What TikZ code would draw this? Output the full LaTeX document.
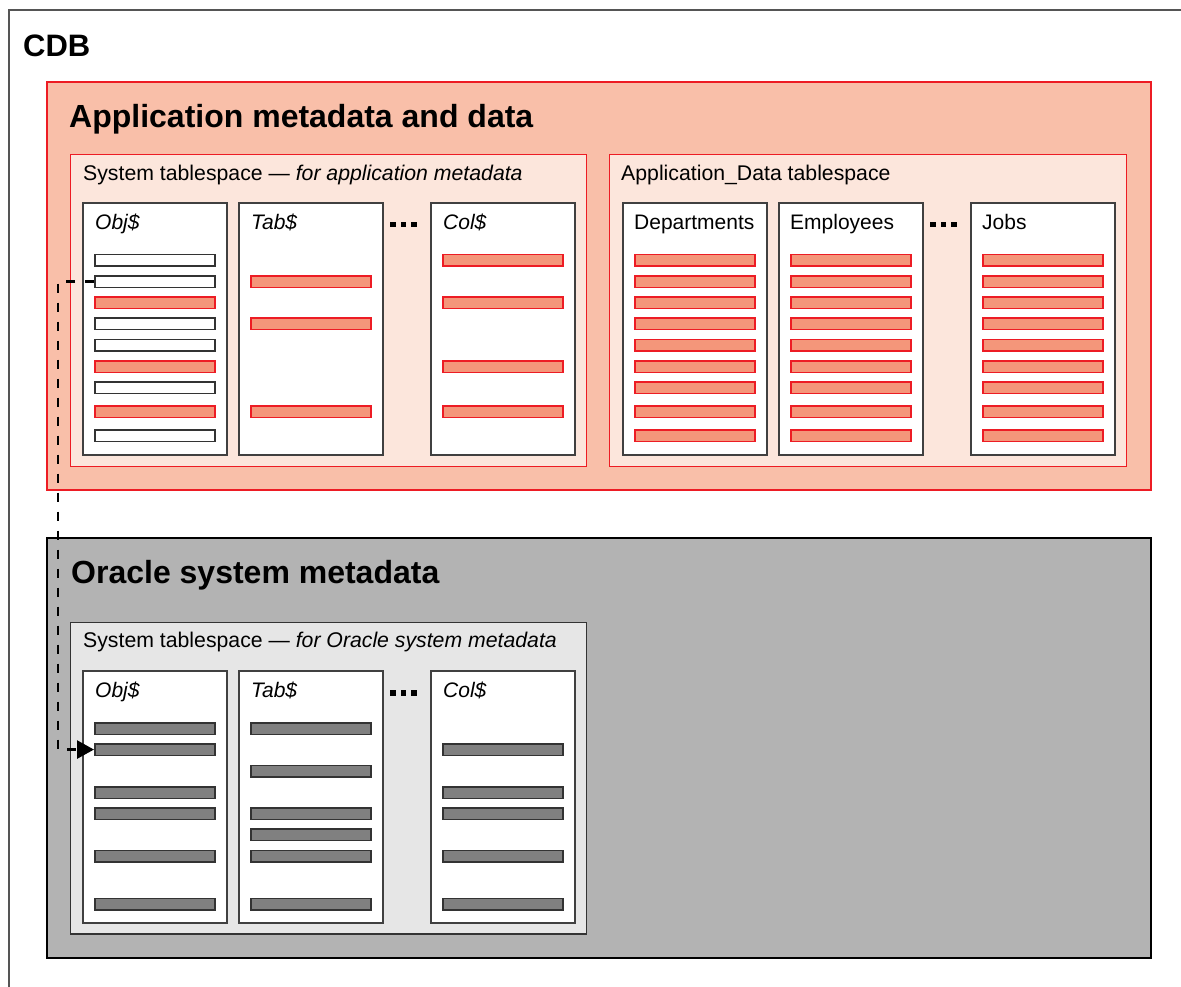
\documentclass[tikz,border=0pt]{standalone}
\usepackage{fontspec}
\setmainfont{Liberation Sans}
\usetikzlibrary{arrows.meta}
\definecolor{cdbgray}{HTML}{555555}
\definecolor{appred}{HTML}{ED1C24}
\definecolor{appfill}{HTML}{F9BFA9}
\definecolor{tbsfill}{HTML}{FCE6DC}
\definecolor{rowredfill}{HTML}{F4967A}
\definecolor{boxgray}{HTML}{404040}
\definecolor{rowborder}{HTML}{333333}
\definecolor{orafill}{HTML}{B3B3B3}
\definecolor{oratbs}{HTML}{E6E6E6}
\definecolor{rowgrayfill}{HTML}{808080}
\tikzset{
  cdbframe/.style={draw=cdbgray, line width=2pt},
  appouter/.style={draw=appred, fill=appfill, line width=2pt},
  apptbs/.style={draw=appred, fill=tbsfill, line width=1.3pt},
  oraouter/.style={draw=black, fill=orafill, line width=2.2pt},
  oratbsbox/.style={draw=rowborder, fill=oratbs, line width=1.4pt},
  colbox/.style={draw=boxgray, fill=white, line width=2pt, inner sep=0pt,
    minimum width=144pt, minimum height=252pt, anchor=north west},
  rowbase/.style={inner sep=0pt, minimum width=120pt, minimum height=11.5pt,
    anchor=north west, line width=1.6pt},
  rowempty/.style={rowbase, draw=rowborder, fill=white},
  rowred/.style={rowbase, draw=appred, fill=rowredfill},
  rowgray/.style={rowbase, draw=rowborder, fill=rowgrayfill},
  bigtitle/.style={anchor=base west, inner sep=0pt, font=\fontsize{32}{37}\selectfont\bfseries},
  cdbtitle/.style={anchor=base west, inner sep=0pt, font=\fontsize{31}{36}\selectfont\bfseries},
  subtitle/.style={anchor=base west, inner sep=0pt, font=\fontsize{21.25}{25}\selectfont},
  collabel/.style={anchor=base west, inner sep=0pt, font=\fontsize{21}{25}\selectfont},
  dotsq/.style={fill=black, draw=none, inner sep=0pt, minimum size=5.5pt, anchor=north west},
  link/.style={draw=black, line width=2.6pt, dash pattern=on 9pt off 10pt,
    -{Triangle[length=17pt,width=18pt]}},
}
\begin{document}
\begin{tikzpicture}[x=1pt,y=-1pt]
\useasboundingbox (0,0) rectangle (1181,986);
% CDB frame
\draw[cdbframe] (9,990) -- (9,10) -- (1185,10);
\node[cdbtitle] (cdb) at (23,56) {CDB};

% Application metadata and data
\node[appouter, inner sep=0pt, minimum width=1104pt, minimum height=408pt, anchor=north west] (app) at (46,81) {};
\node[bigtitle] (apptitle) at (69,127) {Application metadata and data};

\node[apptbs, inner sep=0pt, minimum width=516.5pt, minimum height=311.5pt, anchor=north west] (appsys) at (69.5,154) {};
\node[subtitle] (appsyslbl) at (83,180) {System tablespace — \textit{for application metadata}};

\node[apptbs, inner sep=0pt, minimum width=517pt, minimum height=311.5pt, anchor=north west] (appdata) at (609,154) {};
\node[subtitle] (appdatalbl) at (621,180) {Application\_Data tablespace};

% app system columns
\node[colbox] (aobj) at (82,201.7) {};
\node[colbox] (atab) at (238,201.7) {};
\node[colbox] (acol) at (430,201.7) {};
\node[collabel] (aobjl) at (95,229) {\textit{Obj\$}};
\node[collabel] (atabl) at (251,229) {\textit{Tab\$}};
\node[collabel] (acoll) at (443,229) {\textit{Col\$}};
\foreach \i in {0,1,2} \node[dotsq] (adot\i) at (390+10.6*\i,221.7) {};

\foreach \y/\s [count=\k] in {253.5/rowempty,275/rowempty,296/rowred,317/rowempty,338.5/rowempty,360/rowred,381/rowempty,405/rowred,429/rowempty}
  \node[\s] (aobjr\k) at (94,\y) {};
\foreach \y [count=\k] in {275,317,405}
  \node[rowred] (atabr\k) at (250,\y) {};
\foreach \y [count=\k] in {253.5,296,360,405}
  \node[rowred] (acolr\k) at (442,\y) {};

% app data columns
\node[colbox] (dep) at (622,201.7) {};
\node[colbox] (emp) at (778,201.7) {};
\node[colbox] (jobs) at (970,201.7) {};
\node[collabel] (depl) at (634,229) {Departments};
\node[collabel] (empl) at (790,229) {Employees};
\node[collabel] (jobsl) at (982,229) {Jobs};
\foreach \i in {0,1,2} \node[dotsq] (ddot\i) at (930+10.6*\i,221.7) {};
\foreach \y [count=\k] in {253.5,275,296,317,338.5,360,381,405,429} {
  \node[rowred] (depr\k) at (634,\y) {};
  \node[rowred] (empr\k) at (790,\y) {};
  \node[rowred] (jobsr\k) at (982,\y) {};
}

% Oracle system metadata
\node[oraouter, inner sep=0pt, minimum width=1104pt, minimum height=420pt, anchor=north west] (ora) at (46,537) {};
\node[bigtitle] (oratitle) at (71,583) {Oracle system metadata};
\node[oratbsbox, inner sep=0pt, minimum width=516.5pt, minimum height=311.5pt, anchor=north west] (orasys) at (69.5,621.7) {};
\node[subtitle] (orasyslbl) at (83,647) {System tablespace — \textit{for Oracle system metadata}};

\node[colbox] (oobj) at (82,670) {};
\node[colbox] (otab) at (238,670) {};
\node[colbox] (ocol) at (430,670) {};
\node[collabel] (oobjl) at (95,697) {\textit{Obj\$}};
\node[collabel] (otabl) at (251,697) {\textit{Tab\$}};
\node[collabel] (ocoll) at (443,697) {\textit{Col\$}};
\foreach \i in {0,1,2} \node[dotsq] (odot\i) at (390+10.6*\i,690) {};

\foreach \y [count=\k] in {722,743,786,807,849.5,897.5}
  \node[rowgray] (oobjr\k) at (94,\y) {};
\foreach \y [count=\k] in {722,764.5,807,828,849.5,897.5}
  \node[rowgray] (otabr\k) at (250,\y) {};
\foreach \y [count=\k] in {743,786,807,849.5,897.5}
  \node[rowgray] (ocolr\k) at (442,\y) {};

% link
\draw[link] (aobjr2.west) -- ++(-36,0) |- (oobjr2.west);
\end{tikzpicture}
\end{document}
